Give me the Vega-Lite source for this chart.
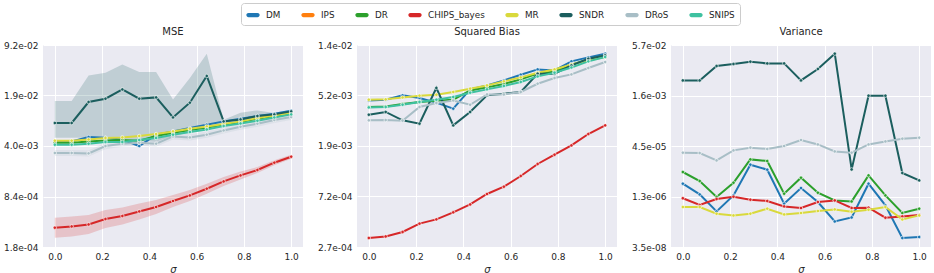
{
 "$schema": "https://vega.github.io/schema/vega-lite/v6.json",
 "padding": {"left": 3, "top": 2, "right": 5, "bottom": 2},
 "background": "white",
 "spacing": 14,
 "datasets": {
  "lines": [
   {"p":"MSE","e":"DM","x":0,"v":0.00455},{"p":"MSE","e":"DM","x":0.0714,"v":0.00464},{"p":"MSE","e":"DM","x":0.1429,"v":0.00531},{"p":"MSE","e":"DM","x":0.2143,"v":0.0052},{"p":"MSE","e":"DM","x":0.2857,"v":0.00489},{"p":"MSE","e":"DM","x":0.3571,"v":0.00402},{"p":"MSE","e":"DM","x":0.4286,"v":0.00571},{"p":"MSE","e":"DM","x":0.5,"v":0.00632},{"p":"MSE","e":"DM","x":0.5714,"v":0.00702},{"p":"MSE","e":"DM","x":0.6429,"v":0.00778},{"p":"MSE","e":"DM","x":0.7143,"v":0.00862},{"p":"MSE","e":"DM","x":0.7857,"v":0.00937},{"p":"MSE","e":"DM","x":0.8571,"v":0.01019},{"p":"MSE","e":"DM","x":0.9286,"v":0.01094},{"p":"MSE","e":"DM","x":1,"v":0.012},
   {"p":"MSE","e":"DR","x":0,"v":0.00445},{"p":"MSE","e":"DR","x":0.0714,"v":0.00445},{"p":"MSE","e":"DR","x":0.1429,"v":0.00464},{"p":"MSE","e":"DR","x":0.2143,"v":0.00478},{"p":"MSE","e":"DR","x":0.2857,"v":0.00484},{"p":"MSE","e":"DR","x":0.3571,"v":0.00474},{"p":"MSE","e":"DR","x":0.4286,"v":0.00548},{"p":"MSE","e":"DR","x":0.5,"v":0.00607},{"p":"MSE","e":"DR","x":0.5714,"v":0.0066},{"p":"MSE","e":"DR","x":0.6429,"v":0.00715},{"p":"MSE","e":"DR","x":0.7143,"v":0.00778},{"p":"MSE","e":"DR","x":0.7857,"v":0.00846},{"p":"MSE","e":"DR","x":0.8571,"v":0.00937},{"p":"MSE","e":"DR","x":0.9286,"v":0.01019},{"p":"MSE","e":"DR","x":1,"v":0.01104},
   {"p":"MSE","e":"CHIPS_bayes","x":0,"v":0.00032},{"p":"MSE","e":"CHIPS_bayes","x":0.0714,"v":0.000333},{"p":"MSE","e":"CHIPS_bayes","x":0.1429,"v":0.000354},{"p":"MSE","e":"CHIPS_bayes","x":0.2143,"v":0.000419},{"p":"MSE","e":"CHIPS_bayes","x":0.2857,"v":0.00046},{"p":"MSE","e":"CHIPS_bayes","x":0.3571,"v":0.00053},{"p":"MSE","e":"CHIPS_bayes","x":0.4286,"v":0.000608},{"p":"MSE","e":"CHIPS_bayes","x":0.5,"v":0.000732},{"p":"MSE","e":"CHIPS_bayes","x":0.5714,"v":0.00087},{"p":"MSE","e":"CHIPS_bayes","x":0.6429,"v":0.001071},{"p":"MSE","e":"CHIPS_bayes","x":0.7143,"v":0.001343},{"p":"MSE","e":"CHIPS_bayes","x":0.7857,"v":0.001617},{"p":"MSE","e":"CHIPS_bayes","x":0.8571,"v":0.001912},{"p":"MSE","e":"CHIPS_bayes","x":0.9286,"v":0.002397},{"p":"MSE","e":"CHIPS_bayes","x":1,"v":0.002887},
   {"p":"MSE","e":"MR","x":0,"v":0.00474},{"p":"MSE","e":"MR","x":0.0714,"v":0.00474},{"p":"MSE","e":"MR","x":0.1429,"v":0.00493},{"p":"MSE","e":"MR","x":0.2143,"v":0.00515},{"p":"MSE","e":"MR","x":0.2857,"v":0.00525},{"p":"MSE","e":"MR","x":0.3571,"v":0.00548},{"p":"MSE","e":"MR","x":0.4286,"v":0.00583},{"p":"MSE","e":"MR","x":0.5,"v":0.00632},{"p":"MSE","e":"MR","x":0.5714,"v":0.00687},{"p":"MSE","e":"MR","x":0.6429,"v":0.00738},{"p":"MSE","e":"MR","x":0.7143,"v":0.00795},{"p":"MSE","e":"MR","x":0.7857,"v":0.00862},{"p":"MSE","e":"MR","x":0.8571,"v":0.00957},{"p":"MSE","e":"MR","x":0.9286,"v":0.01038},{"p":"MSE","e":"MR","x":1,"v":0.01117},
   {"p":"MSE","e":"SNDR","x":0,"v":0.0082},{"p":"MSE","e":"SNDR","x":0.0714,"v":0.0082},{"p":"MSE","e":"SNDR","x":0.1429,"v":0.01571},{"p":"MSE","e":"SNDR","x":0.2143,"v":0.0174},{"p":"MSE","e":"SNDR","x":0.2857,"v":0.02321},{"p":"MSE","e":"SNDR","x":0.3571,"v":0.0174},{"p":"MSE","e":"SNDR","x":0.4286,"v":0.01812},{"p":"MSE","e":"SNDR","x":0.5,"v":0.00975},{"p":"MSE","e":"SNDR","x":0.5714,"v":0.01538},{"p":"MSE","e":"SNDR","x":0.6429,"v":0.03516},{"p":"MSE","e":"SNDR","x":0.7143,"v":0.00862},{"p":"MSE","e":"SNDR","x":0.7857,"v":0.00917},{"p":"MSE","e":"SNDR","x":0.8571,"v":0.01019},{"p":"MSE","e":"SNDR","x":0.9286,"v":0.01071},{"p":"MSE","e":"SNDR","x":1,"v":0.01175},
   {"p":"MSE","e":"DRoS","x":0,"v":0.00324},{"p":"MSE","e":"DRoS","x":0.0714,"v":0.00324},{"p":"MSE","e":"DRoS","x":0.1429,"v":0.0032},{"p":"MSE","e":"DRoS","x":0.2143,"v":0.00402},{"p":"MSE","e":"DRoS","x":0.2857,"v":0.00432},{"p":"MSE","e":"DRoS","x":0.3571,"v":0.00445},{"p":"MSE","e":"DRoS","x":0.4286,"v":0.00432},{"p":"MSE","e":"DRoS","x":0.5,"v":0.00541},{"p":"MSE","e":"DRoS","x":0.5714,"v":0.00525},{"p":"MSE","e":"DRoS","x":0.6429,"v":0.00571},{"p":"MSE","e":"DRoS","x":0.7143,"v":0.00652},{"p":"MSE","e":"DRoS","x":0.7857,"v":0.00731},{"p":"MSE","e":"DRoS","x":0.8571,"v":0.00802},{"p":"MSE","e":"DRoS","x":0.9286,"v":0.009},{"p":"MSE","e":"DRoS","x":1,"v":0.00987},
   {"p":"MSE","e":"SNIPS","x":0,"v":0.00418},{"p":"MSE","e":"SNIPS","x":0.0714,"v":0.00418},{"p":"MSE","e":"SNIPS","x":0.1429,"v":0.00432},{"p":"MSE","e":"SNIPS","x":0.2143,"v":0.00455},{"p":"MSE","e":"SNIPS","x":0.2857,"v":0.00455},{"p":"MSE","e":"SNIPS","x":0.3571,"v":0.00484},{"p":"MSE","e":"SNIPS","x":0.4286,"v":0.00515},{"p":"MSE","e":"SNIPS","x":0.5,"v":0.00571},{"p":"MSE","e":"SNIPS","x":0.5714,"v":0.0062},{"p":"MSE","e":"SNIPS","x":0.6429,"v":0.00672},{"p":"MSE","e":"SNIPS","x":0.7143,"v":0.00747},{"p":"MSE","e":"SNIPS","x":0.7857,"v":0.0081},{"p":"MSE","e":"SNIPS","x":0.8571,"v":0.0088},{"p":"MSE","e":"SNIPS","x":0.9286,"v":0.00975},{"p":"MSE","e":"SNIPS","x":1,"v":0.01071},

   {"p":"Bias","e":"DM","x":0,"v":0.00472},{"p":"Bias","e":"DM","x":0.0714,"v":0.00479},{"p":"Bias","e":"DM","x":0.1429,"v":0.00521},{"p":"Bias","e":"DM","x":0.2143,"v":0.00495},{"p":"Bias","e":"DM","x":0.2857,"v":0.00452},{"p":"Bias","e":"DM","x":0.3571,"v":0.00402},{"p":"Bias","e":"DM","x":0.4286,"v":0.00586},{"p":"Bias","e":"DM","x":0.5,"v":0.00633},{"p":"Bias","e":"DM","x":0.5714,"v":0.00698},{"p":"Bias","e":"DM","x":0.6429,"v":0.0078},{"p":"Bias","e":"DM","x":0.7143,"v":0.00865},{"p":"Bias","e":"DM","x":0.7857,"v":0.00848},{"p":"Bias","e":"DM","x":0.8571,"v":0.01012},{"p":"Bias","e":"DM","x":0.9286,"v":0.01094},{"p":"Bias","e":"DM","x":1,"v":0.01175},
   {"p":"Bias","e":"DR","x":0,"v":0.00415},{"p":"Bias","e":"DR","x":0.0714,"v":0.0042},{"p":"Bias","e":"DR","x":0.1429,"v":0.0044},{"p":"Bias","e":"DR","x":0.2143,"v":0.00458},{"p":"Bias","e":"DR","x":0.2857,"v":0.0047},{"p":"Bias","e":"DR","x":0.3571,"v":0.00479},{"p":"Bias","e":"DR","x":0.4286,"v":0.00574},{"p":"Bias","e":"DR","x":0.5,"v":0.00609},{"p":"Bias","e":"DR","x":0.5714,"v":0.00651},{"p":"Bias","e":"DR","x":0.6429,"v":0.00712},{"p":"Bias","e":"DR","x":0.7143,"v":0.00796},{"p":"Bias","e":"DR","x":0.7857,"v":0.00832},{"p":"Bias","e":"DR","x":0.8571,"v":0.00948},{"p":"Bias","e":"DR","x":0.9286,"v":0.01051},{"p":"Bias","e":"DR","x":1,"v":0.01137},
   {"p":"Bias","e":"CHIPS_bayes","x":0,"v":0.000322},{"p":"Bias","e":"CHIPS_bayes","x":0.0714,"v":0.000332},{"p":"Bias","e":"CHIPS_bayes","x":0.1429,"v":0.000362},{"p":"Bias","e":"CHIPS_bayes","x":0.2143,"v":0.000426},{"p":"Bias","e":"CHIPS_bayes","x":0.2857,"v":0.000463},{"p":"Bias","e":"CHIPS_bayes","x":0.3571,"v":0.000531},{"p":"Bias","e":"CHIPS_bayes","x":0.4286,"v":0.00062},{"p":"Bias","e":"CHIPS_bayes","x":0.5,"v":0.00076},{"p":"Bias","e":"CHIPS_bayes","x":0.5714,"v":0.000876},{"p":"Bias","e":"CHIPS_bayes","x":0.6429,"v":0.00108},{"p":"Bias","e":"CHIPS_bayes","x":0.7143,"v":0.001365},{"p":"Bias","e":"CHIPS_bayes","x":0.7857,"v":0.001636},{"p":"Bias","e":"CHIPS_bayes","x":0.8571,"v":0.001963},{"p":"Bias","e":"CHIPS_bayes","x":0.9286,"v":0.002451},{"p":"Bias","e":"CHIPS_bayes","x":1,"v":0.002901},
   {"p":"Bias","e":"MR","x":0,"v":0.00479},{"p":"Bias","e":"MR","x":0.0714,"v":0.00482},{"p":"Bias","e":"MR","x":0.1429,"v":0.00501},{"p":"Bias","e":"MR","x":0.2143,"v":0.00518},{"p":"Bias","e":"MR","x":0.2857,"v":0.00528},{"p":"Bias","e":"MR","x":0.3571,"v":0.00557},{"p":"Bias","e":"MR","x":0.4286,"v":0.00594},{"p":"Bias","e":"MR","x":0.5,"v":0.00633},{"p":"Bias","e":"MR","x":0.5714,"v":0.00685},{"p":"Bias","e":"MR","x":0.6429,"v":0.0074},{"p":"Bias","e":"MR","x":0.7143,"v":0.00811},{"p":"Bias","e":"MR","x":0.7857,"v":0.00865},{"p":"Bias","e":"MR","x":0.8571,"v":0.00954},{"p":"Bias","e":"MR","x":0.9286,"v":0.01031},{"p":"Bias","e":"MR","x":1,"v":0.01102},
   {"p":"Bias","e":"SNDR","x":0,"v":0.00357},{"p":"Bias","e":"SNDR","x":0.0714,"v":0.00377},{"p":"Bias","e":"SNDR","x":0.1429,"v":0.0032},{"p":"Bias","e":"SNDR","x":0.2143,"v":0.003},{"p":"Bias","e":"SNDR","x":0.2857,"v":0.00602},{"p":"Bias","e":"SNDR","x":0.3571,"v":0.0029},{"p":"Bias","e":"SNDR","x":0.4286,"v":0.00377},{"p":"Bias","e":"SNDR","x":0.5,"v":0.00521},{"p":"Bias","e":"SNDR","x":0.5714,"v":0.00538},{"p":"Bias","e":"SNDR","x":0.6429,"v":0.00557},{"p":"Bias","e":"SNDR","x":0.7143,"v":0.00796},{"p":"Bias","e":"SNDR","x":0.7857,"v":0.00796},{"p":"Bias","e":"SNDR","x":0.8571,"v":0.00935},{"p":"Bias","e":"SNDR","x":0.9286,"v":0.01066},{"p":"Bias","e":"SNDR","x":1,"v":0.01137},
   {"p":"Bias","e":"DRoS","x":0,"v":0.0032},{"p":"Bias","e":"DRoS","x":0.0714,"v":0.00322},{"p":"Bias","e":"DRoS","x":0.1429,"v":0.00318},{"p":"Bias","e":"DRoS","x":0.2143,"v":0.00415},{"p":"Bias","e":"DRoS","x":0.2857,"v":0.00449},{"p":"Bias","e":"DRoS","x":0.3571,"v":0.00472},{"p":"Bias","e":"DRoS","x":0.4286,"v":0.00434},{"p":"Bias","e":"DRoS","x":0.5,"v":0.00531},{"p":"Bias","e":"DRoS","x":0.5714,"v":0.00531},{"p":"Bias","e":"DRoS","x":0.6429,"v":0.00557},{"p":"Bias","e":"DRoS","x":0.7143,"v":0.00654},{"p":"Bias","e":"DRoS","x":0.7857,"v":0.00731},{"p":"Bias","e":"DRoS","x":0.8571,"v":0.00785},{"p":"Bias","e":"DRoS","x":0.9286,"v":0.00889},{"p":"Bias","e":"DRoS","x":1,"v":0.01},
   {"p":"Bias","e":"SNIPS","x":0,"v":0.00412},{"p":"Bias","e":"SNIPS","x":0.0714,"v":0.00415},{"p":"Bias","e":"SNIPS","x":0.1429,"v":0.00434},{"p":"Bias","e":"SNIPS","x":0.2143,"v":0.00458},{"p":"Bias","e":"SNIPS","x":0.2857,"v":0.00479},{"p":"Bias","e":"SNIPS","x":0.3571,"v":0.00505},{"p":"Bias","e":"SNIPS","x":0.4286,"v":0.00549},{"p":"Bias","e":"SNIPS","x":0.5,"v":0.00586},{"p":"Bias","e":"SNIPS","x":0.5714,"v":0.00626},{"p":"Bias","e":"SNIPS","x":0.6429,"v":0.00677},{"p":"Bias","e":"SNIPS","x":0.7143,"v":0.00755},{"p":"Bias","e":"SNIPS","x":0.7857,"v":0.00811},{"p":"Bias","e":"SNIPS","x":0.8571,"v":0.00899},{"p":"Bias","e":"SNIPS","x":0.9286,"v":0.01012},{"p":"Bias","e":"SNIPS","x":1,"v":0.01102},

   {"p":"Var","e":"DM","x":0,"v":3.12e-6},{"p":"Var","e":"DM","x":0.0714,"v":1.462e-6},{"p":"Var","e":"DM","x":0.1429,"v":4.39e-7},{"p":"Var","e":"DM","x":0.2143,"v":1.362e-6},{"p":"Var","e":"DM","x":0.2857,"v":1.195e-5},{"p":"Var","e":"DM","x":0.3571,"v":8.39e-6},{"p":"Var","e":"DM","x":0.4286,"v":7.57e-7},{"p":"Var","e":"DM","x":0.5,"v":2.3e-6},{"p":"Var","e":"DM","x":0.5714,"v":8.54e-7},{"p":"Var","e":"DM","x":0.6429,"v":2.16e-7},{"p":"Var","e":"DM","x":0.7143,"v":2.87e-7},{"p":"Var","e":"DM","x":0.7857,"v":3.12e-6},{"p":"Var","e":"DM","x":0.8571,"v":6.71e-7},{"p":"Var","e":"DM","x":0.9286,"v":6.69e-8},{"p":"Var","e":"DM","x":1,"v":7.18e-8},
   {"p":"Var","e":"DR","x":0,"v":7.13e-6},{"p":"Var","e":"DR","x":0.0714,"v":3.77e-6},{"p":"Var","e":"DR","x":0.1429,"v":1.217e-6},{"p":"Var","e":"DR","x":0.2143,"v":3.34e-6},{"p":"Var","e":"DR","x":0.2857,"v":1.739e-5},{"p":"Var","e":"DR","x":0.3571,"v":1.552e-5},{"p":"Var","e":"DR","x":0.4286,"v":1.536e-6},{"p":"Var","e":"DR","x":0.5,"v":4.76e-6},{"p":"Var","e":"DR","x":0.5714,"v":1.649e-6},{"p":"Var","e":"DR","x":0.6429,"v":9.56e-7},{"p":"Var","e":"DR","x":0.7143,"v":8.91e-7},{"p":"Var","e":"DR","x":0.7857,"v":5.61e-6},{"p":"Var","e":"DR","x":0.8571,"v":1.362e-6},{"p":"Var","e":"DR","x":0.9286,"v":3.92e-7},{"p":"Var","e":"DR","x":1,"v":5.32e-7},
   {"p":"Var","e":"CHIPS_bayes","x":0,"v":1.117e-6},{"p":"Var","e":"CHIPS_bayes","x":0.0714,"v":6.91e-7},{"p":"Var","e":"CHIPS_bayes","x":0.1429,"v":1.056e-6},{"p":"Var","e":"CHIPS_bayes","x":0.2143,"v":1.243e-6},{"p":"Var","e":"CHIPS_bayes","x":0.2857,"v":1.005e-6},{"p":"Var","e":"CHIPS_bayes","x":0.3571,"v":9.17e-7},{"p":"Var","e":"CHIPS_bayes","x":0.4286,"v":6.26e-7},{"p":"Var","e":"CHIPS_bayes","x":0.5,"v":5.59e-7},{"p":"Var","e":"CHIPS_bayes","x":0.5714,"v":8.54e-7},{"p":"Var","e":"CHIPS_bayes","x":0.6429,"v":9.56e-7},{"p":"Var","e":"CHIPS_bayes","x":0.7143,"v":5.59e-7},{"p":"Var","e":"CHIPS_bayes","x":0.7857,"v":5.71e-7},{"p":"Var","e":"CHIPS_bayes","x":0.8571,"v":2.81e-7},{"p":"Var","e":"CHIPS_bayes","x":0.9286,"v":3.08e-7},{"p":"Var","e":"CHIPS_bayes","x":1,"v":3.4e-7},
   {"p":"Var","e":"MR","x":0,"v":5.99e-7},{"p":"Var","e":"MR","x":0.0714,"v":5.99e-7},{"p":"Var","e":"MR","x":0.1429,"v":3.73e-7},{"p":"Var","e":"MR","x":0.2143,"v":3.31e-7},{"p":"Var","e":"MR","x":0.2857,"v":3.73e-7},{"p":"Var","e":"MR","x":0.3571,"v":5.32e-7},{"p":"Var","e":"MR","x":0.4286,"v":3.55e-7},{"p":"Var","e":"MR","x":0.5,"v":3.92e-7},{"p":"Var","e":"MR","x":0.5714,"v":4.52e-7},{"p":"Var","e":"MR","x":0.6429,"v":5.06e-7},{"p":"Var","e":"MR","x":0.7143,"v":4.3e-7},{"p":"Var","e":"MR","x":0.7857,"v":4.95e-7},{"p":"Var","e":"MR","x":0.8571,"v":5.99e-7},{"p":"Var","e":"MR","x":0.9286,"v":2.49e-7},{"p":"Var","e":"MR","x":1,"v":3.31e-7},
   {"p":"Var","e":"SNDR","x":0,"v":0.00465},{"p":"Var","e":"SNDR","x":0.0714,"v":0.00465},{"p":"Var","e":"SNDR","x":0.1429,"v":0.01287},{"p":"Var","e":"SNDR","x":0.2143,"v":0.01483},{"p":"Var","e":"SNDR","x":0.2857,"v":0.01745},{"p":"Var","e":"SNDR","x":0.3571,"v":0.01547},{"p":"Var","e":"SNDR","x":0.4286,"v":0.01547},{"p":"Var","e":"SNDR","x":0.5,"v":0.00465},{"p":"Var","e":"SNDR","x":0.5714,"v":0.01041},{"p":"Var","e":"SNDR","x":0.6429,"v":0.0307},{"p":"Var","e":"SNDR","x":0.7143,"v":8.57e-6},{"p":"Var","e":"SNDR","x":0.7857,"v":0.001575},{"p":"Var","e":"SNDR","x":0.8571,"v":0.001575},{"p":"Var","e":"SNDR","x":0.9286,"v":6.64e-6},{"p":"Var","e":"SNDR","x":1,"v":3.94e-6},
   {"p":"Var","e":"DRoS","x":0,"v":2.79e-5},{"p":"Var","e":"DRoS","x":0.0714,"v":2.73e-5},{"p":"Var","e":"DRoS","x":0.1429,"v":1.62e-5},{"p":"Var","e":"DRoS","x":0.2143,"v":3.29e-5},{"p":"Var","e":"DRoS","x":0.2857,"v":3.98e-5},{"p":"Var","e":"DRoS","x":0.3571,"v":3.63e-5},{"p":"Var","e":"DRoS","x":0.4286,"v":4.48e-5},{"p":"Var","e":"DRoS","x":0.5,"v":6.86e-5},{"p":"Var","e":"DRoS","x":0.5714,"v":5.02e-5},{"p":"Var","e":"DRoS","x":0.6429,"v":3.06e-5},{"p":"Var","e":"DRoS","x":0.7143,"v":2.79e-5},{"p":"Var","e":"DRoS","x":0.7857,"v":5.02e-5},{"p":"Var","e":"DRoS","x":0.8571,"v":6.21e-5},{"p":"Var","e":"DRoS","x":0.9286,"v":7.52e-5},{"p":"Var","e":"DRoS","x":1,"v":8.07e-5}
  ],
  "bands": [
   {"p":"MSE","e":"CHIPS_bayes","x":0,"lo":0.000235,"hi":0.000436},{"p":"MSE","e":"CHIPS_bayes","x":0.0714,"lo":0.000244,"hi":0.000454},{"p":"MSE","e":"CHIPS_bayes","x":0.1429,"lo":0.000264,"hi":0.000475},{"p":"MSE","e":"CHIPS_bayes","x":0.2143,"lo":0.000317,"hi":0.000554},{"p":"MSE","e":"CHIPS_bayes","x":0.2857,"lo":0.000354,"hi":0.000598},{"p":"MSE","e":"CHIPS_bayes","x":0.3571,"lo":0.000414,"hi":0.000679},{"p":"MSE","e":"CHIPS_bayes","x":0.4286,"lo":0.00049,"hi":0.000755},{"p":"MSE","e":"CHIPS_bayes","x":0.5,"lo":0.000608,"hi":0.000881},{"p":"MSE","e":"CHIPS_bayes","x":0.5714,"lo":0.000734,"hi":0.001032},{"p":"MSE","e":"CHIPS_bayes","x":0.6429,"lo":0.000918,"hi":0.00125},{"p":"MSE","e":"CHIPS_bayes","x":0.7143,"lo":0.001168,"hi":0.001544},{"p":"MSE","e":"CHIPS_bayes","x":0.7857,"lo":0.001428,"hi":0.00183},{"p":"MSE","e":"CHIPS_bayes","x":0.8571,"lo":0.001743,"hi":0.002097},{"p":"MSE","e":"CHIPS_bayes","x":0.9286,"lo":0.002219,"hi":0.002589},{"p":"MSE","e":"CHIPS_bayes","x":1,"lo":0.002713,"hi":0.003072},
   {"p":"MSE","e":"SNDR","x":0,"lo":0.0052,"hi":0.01621},{"p":"MSE","e":"SNDR","x":0.0714,"lo":0.0052,"hi":0.01621},{"p":"MSE","e":"SNDR","x":0.1429,"lo":0.0052,"hi":0.03583},{"p":"MSE","e":"SNDR","x":0.2143,"lo":0.00512,"hi":0.03896},{"p":"MSE","e":"SNDR","x":0.2857,"lo":0.00504,"hi":0.0504},{"p":"MSE","e":"SNDR","x":0.3571,"lo":0.00474,"hi":0.0398},{"p":"MSE","e":"SNDR","x":0.4286,"lo":0.00459,"hi":0.0398},{"p":"MSE","e":"SNDR","x":0.5,"lo":0.00553,"hi":0.01703},{"p":"MSE","e":"SNDR","x":0.5714,"lo":0.00607,"hi":0.03305},{"p":"MSE","e":"SNDR","x":0.6429,"lo":0.00666,"hi":0.0702},{"p":"MSE","e":"SNDR","x":0.7143,"lo":0.00802,"hi":0.00908},{"p":"MSE","e":"SNDR","x":0.7857,"lo":0.0084,"hi":0.01128},{"p":"MSE","e":"SNDR","x":0.8571,"lo":0.00937,"hi":0.01212},{"p":"MSE","e":"SNDR","x":0.9286,"lo":0.01012,"hi":0.01117},{"p":"MSE","e":"SNDR","x":1,"lo":0.0111,"hi":0.01238},
   {"p":"MSE","e":"DRoS","x":0,"lo":0.00295,"hi":0.00356},{"p":"MSE","e":"DRoS","x":0.0714,"lo":0.00295,"hi":0.00356},{"p":"MSE","e":"DRoS","x":0.1429,"lo":0.00291,"hi":0.00352},{"p":"MSE","e":"DRoS","x":0.2143,"lo":0.00365,"hi":0.00442},{"p":"MSE","e":"DRoS","x":0.2857,"lo":0.00393,"hi":0.00475},{"p":"MSE","e":"DRoS","x":0.3571,"lo":0.00405,"hi":0.0049},{"p":"MSE","e":"DRoS","x":0.4286,"lo":0.00393,"hi":0.00475},{"p":"MSE","e":"DRoS","x":0.5,"lo":0.00492,"hi":0.00595},{"p":"MSE","e":"DRoS","x":0.5714,"lo":0.00477,"hi":0.00578},{"p":"MSE","e":"DRoS","x":0.6429,"lo":0.00519,"hi":0.00628},{"p":"MSE","e":"DRoS","x":0.7143,"lo":0.00593,"hi":0.00717},{"p":"MSE","e":"DRoS","x":0.7857,"lo":0.00665,"hi":0.00804},{"p":"MSE","e":"DRoS","x":0.8571,"lo":0.00729,"hi":0.00882},{"p":"MSE","e":"DRoS","x":0.9286,"lo":0.00818,"hi":0.0099},{"p":"MSE","e":"DRoS","x":1,"lo":0.00897,"hi":0.01086}
  ]
 },
 "hconcat": [
  {
   "title": "MSE",
   "width": 260, "height": 202,
   "layer": [
    {"data": {"name": "bands"}, "transform": [{"filter": "datum.p == 'MSE'"}],
     "mark": {"type": "area", "opacity": 0.2},
     "encoding": {
      "x": {"field": "x", "type": "quantitative", "scale": {"domain": [-0.05, 1.05], "nice": false, "zero": false}, "axis": {"values": [0, 0.2, 0.4, 0.6, 0.8, 1], "format": ".1f", "title": "σ"}},
      "y": {"field": "lo", "type": "quantitative", "scale": {"type": "log", "domain": [0.000176, 0.09188], "nice": false}, "axis": {"values": [0.000176, 0.0008412, 0.0040215, 0.019222, 0.09188], "labelExpr": "replace(format(datum.value, '.1e'), 'e-', 'e-0')", "title": null}},
      "y2": {"field": "hi"},
      "fill": {"field": "e", "type": "nominal", "scale": {"domain": ["CHIPS_bayes","SNDR","DRoS"], "range": ["#d62728","#1b5e5e","#a8bec6"]}, "legend": null}
     }},
    {"data": {"name": "lines"}, "transform": [{"filter": "datum.p == 'MSE'"}],
     "mark": {"type": "line", "strokeWidth": 2},
     "encoding": {
      "x": {"field": "x", "type": "quantitative"},
      "y": {"field": "v", "type": "quantitative"},
      "stroke": {"field": "e", "type": "nominal", "scale": {"domain": ["DM","DR","CHIPS_bayes","MR","SNDR","DRoS","SNIPS"], "range": ["#1f77b4","#2ca02c","#d62728","#d9d93c","#1b5e5e","#a8bec6","#3ec1a0"]}, "legend": null}
     }},
    {"data": {"name": "lines"}, "transform": [{"filter": "datum.p == 'MSE'"}],
     "mark": {"type": "point", "filled": true, "size": 12, "stroke": "white", "strokeWidth": 0.6, "opacity": 1},
     "encoding": {
      "x": {"field": "x", "type": "quantitative"},
      "y": {"field": "v", "type": "quantitative"},
      "color": {"field": "e", "type": "nominal", "scale": {"domain": ["DM","IPS","DR","CHIPS_bayes","MR","SNDR","DRoS","SNIPS"], "range": ["#1f77b4","#ff7f0e","#2ca02c","#d62728","#d9d93c","#1b5e5e","#a8bec6","#3ec1a0"]}, "legend": {"title": null, "orient": "none", "legendX": 198, "legendY": -42, "direction": "horizontal", "symbolType": "M-0.68,-0.32L0.68,-0.32A0.32,0.32,0,0,1,0.68,0.32L-0.68,0.32A0.32,0.32,0,0,1,-0.68,-0.32Z", "symbolStrokeWidth": 0}}
     }}
   ]
  },
  {
   "title": "Squared Bias",
   "width": 260, "height": 202,
   "layer": [
    {"data": {"name": "lines"}, "transform": [{"filter": "datum.p == 'Bias'"}],
     "mark": {"type": "line", "strokeWidth": 2},
     "encoding": {
      "x": {"field": "x", "type": "quantitative", "scale": {"domain": [-0.05, 1.05], "nice": false, "zero": false}, "axis": {"values": [0, 0.2, 0.4, 0.6, 0.8, 1], "format": ".1f", "title": "σ"}},
      "y": {"field": "v", "type": "quantitative", "scale": {"type": "log", "domain": [0.00027, 0.01393], "nice": false}, "axis": {"values": [0.00027, 0.0007237, 0.0019398, 0.0051988, 0.01393], "labelExpr": "replace(format(datum.value, '.1e'), 'e-', 'e-0')", "title": null}},
      "stroke": {"field": "e", "type": "nominal", "legend": null}
     }},
    {"data": {"name": "lines"}, "transform": [{"filter": "datum.p == 'Bias'"}],
     "mark": {"type": "point", "filled": true, "size": 12, "stroke": "white", "strokeWidth": 0.6, "opacity": 1},
     "encoding": {
      "x": {"field": "x", "type": "quantitative"},
      "y": {"field": "v", "type": "quantitative"},
      "color": {"field": "e", "type": "nominal", "legend": {"title": null, "orient": "none", "legendX": 198, "legendY": -42, "direction": "horizontal", "symbolType": "M-0.68,-0.32L0.68,-0.32A0.32,0.32,0,0,1,0.68,0.32L-0.68,0.32A0.32,0.32,0,0,1,-0.68,-0.32Z", "symbolStrokeWidth": 0}}
     }}
   ]
  },
  {
   "title": "Variance",
   "width": 260, "height": 202,
   "layer": [
    {"data": {"name": "lines"}, "transform": [{"filter": "datum.p == 'Var'"}],
     "mark": {"type": "line", "strokeWidth": 2},
     "encoding": {
      "x": {"field": "x", "type": "quantitative", "scale": {"domain": [-0.05, 1.05], "nice": false, "zero": false}, "axis": {"values": [0, 0.2, 0.4, 0.6, 0.8, 1], "format": ".1f", "title": "σ"}},
      "y": {"field": "v", "type": "quantitative", "scale": {"type": "log", "domain": [3.54e-8, 0.05686], "nice": false}, "axis": {"values": [3.54e-8, 1.2598e-6, 4.4854e-5, 0.0015969, 0.05686], "labelExpr": "replace(format(datum.value, '.1e'), 'e-', 'e-0')", "title": null}},
      "stroke": {"field": "e", "type": "nominal", "legend": null}
     }},
    {"data": {"name": "lines"}, "transform": [{"filter": "datum.p == 'Var'"}],
     "mark": {"type": "point", "filled": true, "size": 12, "stroke": "white", "strokeWidth": 0.6, "opacity": 1},
     "encoding": {
      "x": {"field": "x", "type": "quantitative"},
      "y": {"field": "v", "type": "quantitative"},
      "color": {"field": "e", "type": "nominal", "legend": {"title": null, "orient": "none", "legendX": 198, "legendY": -42, "direction": "horizontal", "symbolType": "M-0.68,-0.32L0.68,-0.32A0.32,0.32,0,0,1,0.68,0.32L-0.68,0.32A0.32,0.32,0,0,1,-0.68,-0.32Z", "symbolStrokeWidth": 0}}
     }}
   ]
  }
 ],
 "resolve": {"scale": {"x": "independent", "y": "independent", "color": "shared", "stroke": "shared", "fill": "shared"}},
 "config": {
  "font": "DejaVu Sans",
  "view": {"fill": "#EAEAF2", "stroke": null},
  "axis": {"grid": true, "gridColor": "#ffffff", "gridWidth": 1, "gridOpacity": 1, "domain": false, "ticks": false, "labelPadding": 5, "labelFont": "DejaVu Sans", "labelFontSize": 9, "labelColor": "#262626", "titleFont": "DejaVu Sans", "titleFontStyle": "italic", "titleFontWeight": "normal", "titleFontSize": 10, "titleColor": "#262626", "titlePadding": 3, "labelOverlap": false},
  "title": {"font": "DejaVu Sans", "fontSize": 10, "fontWeight": "normal", "color": "#262626", "offset": 4},
  "legend": {
   "symbolSize": 177, "symbolStrokeWidth": 0, "symbolOpacity": 1,
   "labelFont": "DejaVu Sans", "labelFontSize": 8.8, "labelColor": "#262626", "labelOffset": 6,
   "columnPadding": 20, "padding": 5, "strokeColor": "#cccccc", "fillColor": "#ffffff", "cornerRadius": 3
  }
 }
}
